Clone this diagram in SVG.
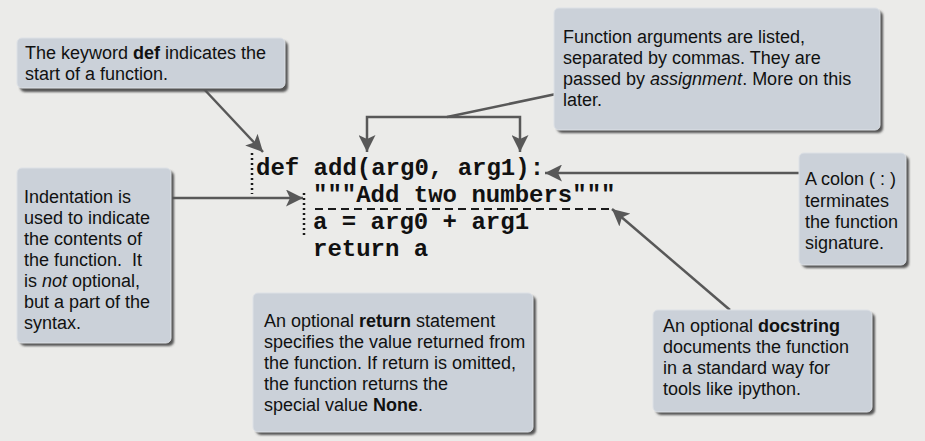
<svg xmlns="http://www.w3.org/2000/svg" width="925" height="441" viewBox="0 0 925 441">
<style>
.box{fill:#cbd1d9;stroke:#dde1e6;stroke-width:1}
.shadow{fill:#555;filter:url(#blur)}
.t{font-family:"Liberation Sans",Arial,sans-serif;font-size:18px;fill:#111}
.code{font-family:"Liberation Mono","Courier New",monospace;font-size:24px;font-weight:bold;fill:#111}
.conn{stroke:#585858;stroke-width:2.5;fill:none}
.dot{stroke:#1a1a1a;stroke-width:2.5;stroke-dasharray:2 3;fill:none}
.dash{stroke:#1a1a1a;stroke-width:1.8;stroke-dasharray:8 5;fill:none}
</style>
<defs>
<filter id="blur" x="-10%" y="-10%" width="120%" height="120%"><feGaussianBlur stdDeviation="1"/></filter>
<marker id="ah" markerUnits="userSpaceOnUse" markerWidth="19" markerHeight="17" refX="17" refY="8.5" orient="auto">
<path d="M0,0 L17,8.5 L0,17 L4,8.5 Z" fill="#585858"/>
</marker>
</defs>
<rect width="925" height="441" fill="#ebebe9"/>

<g id="connectors">
<line class="conn" x1="203" y1="88" x2="263" y2="152" marker-end="url(#ah)"/>
<line class="conn" x1="556" y1="94" x2="447" y2="117"/>
<path class="conn" d="M447,117 H367 V152" marker-end="url(#ah)"/>
<path class="conn" d="M447,117 H520 V152" marker-end="url(#ah)"/>
<line class="conn" x1="799" y1="173" x2="545" y2="173" marker-end="url(#ah)"/>
<line class="conn" x1="171" y1="198" x2="303" y2="198" marker-end="url(#ah)"/>
<line class="conn" x1="730" y1="310" x2="612" y2="209" marker-end="url(#ah)"/>
</g>

<g id="code">
<line class="dot" x1="252" y1="153" x2="252" y2="194"/>
<line class="dot" x1="304" y1="193" x2="304" y2="238"/>
<line class="dash" x1="315" y1="209" x2="613" y2="209"/>
<text class="code" x="256" y="175" xml:space="preserve">def add(arg0, arg1):</text>
<text class="code" x="313" y="202">"""Add two numbers"""</text>
<text class="code" x="313" y="229">a = arg0 + arg1</text>
<text class="code" x="313" y="256">return a</text>
</g>

<g id="node-def">
<rect class="shadow" x="20" y="41" width="268" height="51" rx="5"/>
<rect class="box" x="17" y="38" width="268" height="50" rx="5"/>
<text class="t" x="25" y="59">The keyword <tspan font-weight="bold">def</tspan> indicates the</text>
<text class="t" x="25" y="80">start of a function.</text>
</g>

<g id="node-args">
<rect class="shadow" x="557" y="11" width="326" height="122" rx="5"/>
<rect class="box" x="554" y="8" width="326" height="122" rx="5"/>
<text class="t" x="563" y="43">Function arguments are listed,</text>
<text class="t" x="563" y="64">separated by commas. They are</text>
<text class="t" x="563" y="85">passed by <tspan font-style="italic">assignment</tspan>. More on this</text>
<text class="t" x="563" y="106">later.</text>
</g>

<g id="node-indent">
<rect class="shadow" x="20" y="171" width="154" height="175" rx="5"/>
<rect class="box" x="17" y="168" width="154" height="175" rx="5"/>
<text class="t" x="24" y="203">Indentation is</text>
<text class="t" x="24" y="224">used to indicate</text>
<text class="t" x="24" y="245">the contents of</text>
<text class="t" x="24" y="266" xml:space="preserve">the function.  It</text>
<text class="t" x="24" y="287">is <tspan font-style="italic">not</tspan> optional,</text>
<text class="t" x="24" y="308">but a part of the</text>
<text class="t" x="24" y="329">syntax.</text>
</g>

<g id="node-return">
<rect class="shadow" x="256" y="296" width="280" height="139" rx="5"/>
<rect class="box" x="253" y="293" width="280" height="139" rx="5"/>
<text class="t" x="264" y="327">An optional <tspan font-weight="bold">return</tspan> statement</text>
<text class="t" x="264" y="348">specifies the value returned from</text>
<text class="t" x="264" y="369">the function. If return is omitted,</text>
<text class="t" x="264" y="390">the function returns the</text>
<text class="t" x="264" y="411">special value <tspan font-weight="bold">None</tspan>.</text>
</g>

<g id="node-colon">
<rect class="shadow" x="802" y="156" width="107" height="112" rx="5"/>
<rect class="box" x="799" y="153" width="107" height="112" rx="5"/>
<text class="t" x="805" y="185">A colon ( : )</text>
<text class="t" x="805" y="207">terminates</text>
<text class="t" x="805" y="228">the function</text>
<text class="t" x="805" y="249">signature.</text>
</g>

<g id="node-docstring">
<rect class="shadow" x="656" y="313" width="219" height="102" rx="5"/>
<rect class="box" x="653" y="310" width="219" height="102" rx="5"/>
<text class="t" x="663" y="332">An optional <tspan font-weight="bold">docstring</tspan></text>
<text class="t" x="663" y="353">documents the function</text>
<text class="t" x="663" y="374">in a standard way for</text>
<text class="t" x="663" y="395">tools like ipython.</text>
</g>
</svg>
